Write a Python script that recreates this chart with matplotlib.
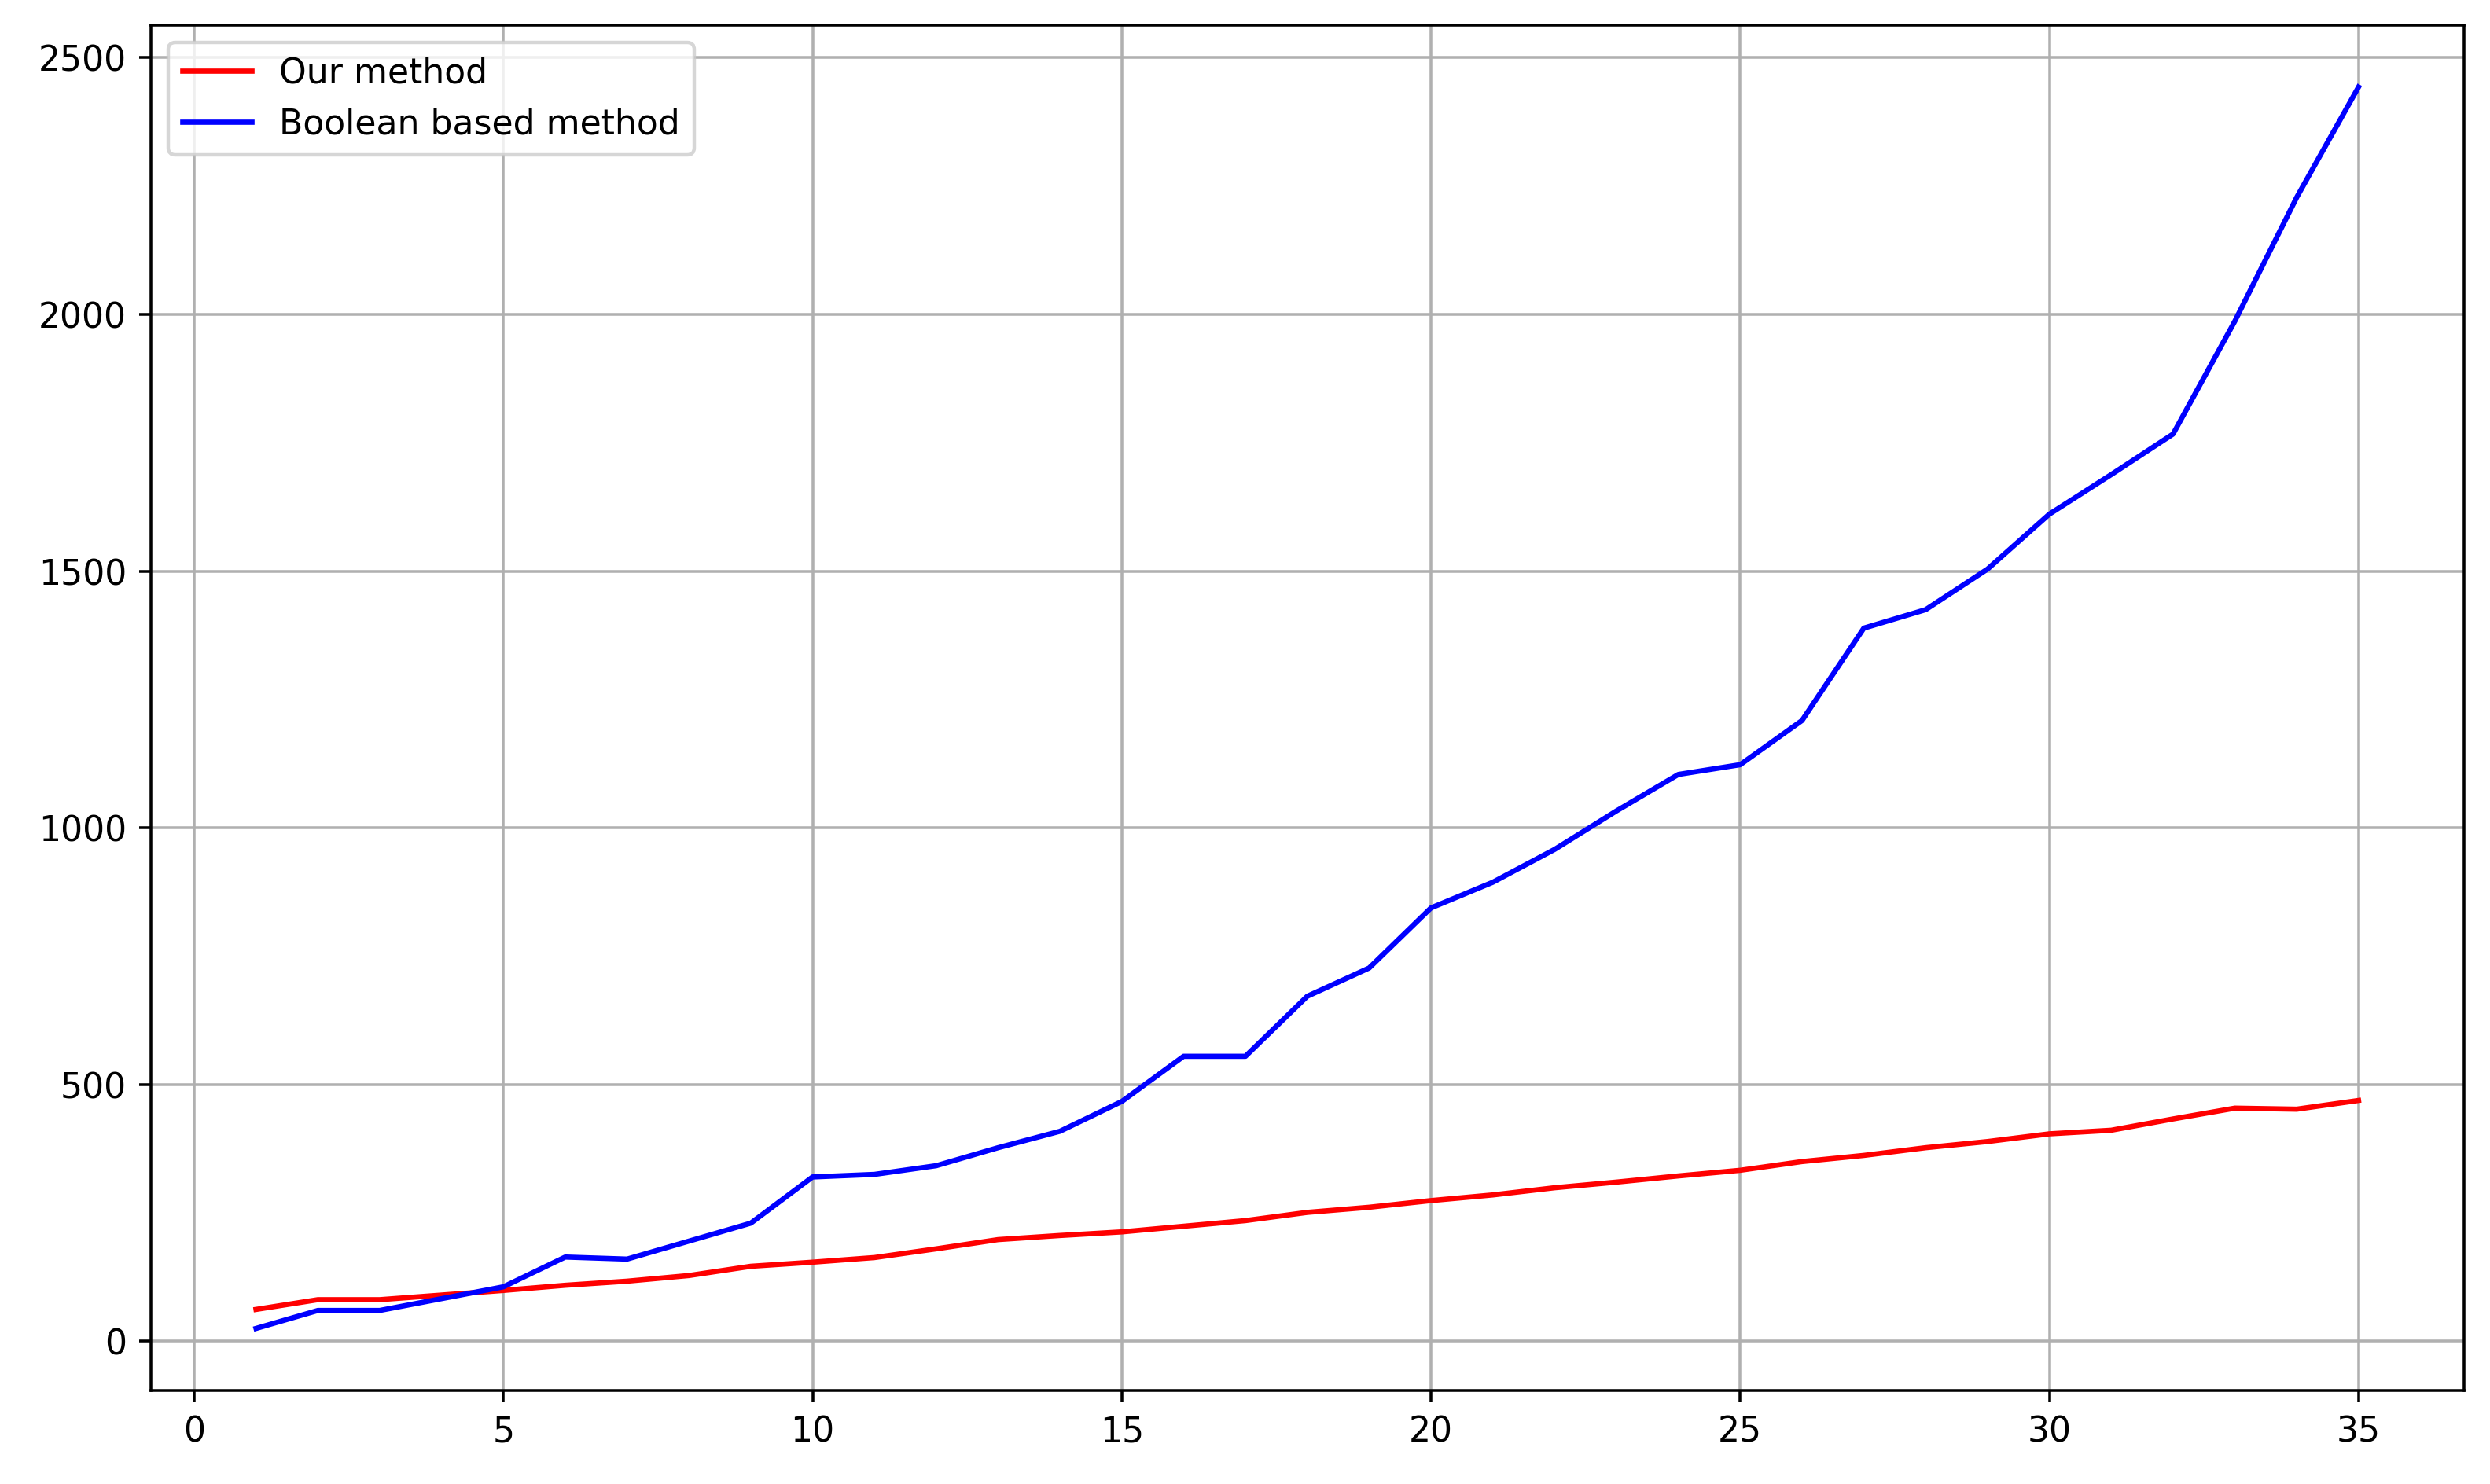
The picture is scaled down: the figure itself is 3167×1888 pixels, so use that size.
import numpy as np
import matplotlib
matplotlib.use("Agg")
import matplotlib.pyplot as plt

n = np.arange(1, 36)

our_method = [62, 81, 81, 90, 99, 109, 117, 128, 146, 154,
              163, 180, 198, 206, 213, 224, 235, 251, 261, 274,
              285, 299, 310, 322, 333, 350, 362, 377, 389, 404,
              411, 433, 454, 452, 469]

boolean_method = [25, 60, 60, 83, 106, 164, 160, 195, 230, 320,
                  325, 342, 377, 409, 467, 555, 555, 672, 727, 844,
                  894, 958, 1033, 1104, 1123, 1209, 1389, 1425, 1504, 1611,
                  1688, 1767, 1987, 2228, 2443]

DPI = 318
fig = plt.figure(figsize=(3167.4/DPI, 1888.4/DPI), dpi=DPI)
ax = fig.add_axes([0.0606, 0.063, 0.9287, 0.92])

ax.plot(n, our_method, color='red', label='Our method')
ax.plot(n, boolean_method, color='blue', label='Boolean based method')

ax.grid(True)
ax.legend(loc='upper left')

plt.savefig("out.png", dpi=DPI)
